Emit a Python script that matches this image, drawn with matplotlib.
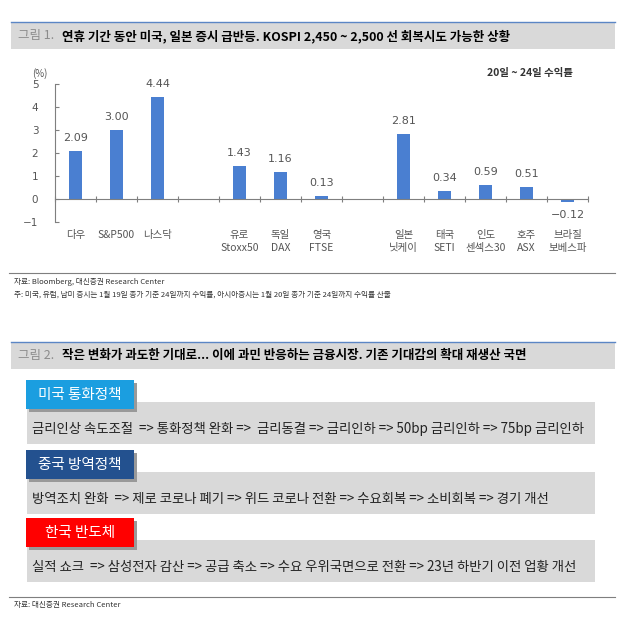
import matplotlib.pyplot as plt
from matplotlib.patches import Rectangle
import matplotlib.transforms as mtransforms

plt.rcParams['font.family'] = ['Noto Sans CJK KR', 'DejaVu Sans']

# chart data
categories = ["다우", "S&P500", "나스닥", "", "유로\nStoxx50", "독일\nDAX", "영국\nFTSE", "",
              "일본\n닛케이", "태국\nSETI", "인도\n센섹스30", "호주\nASX", "브라질\n보베스파"]
values = [2.09, 3.00, 4.44, None, 1.43, 1.16, 0.13, None, 2.81, 0.34, 0.59, 0.51, -0.12]
yticks = [-1, 0, 1, 2, 3, 4, 5]

title1 = "연휴 기간 동안 미국, 일본 증시 급반등. KOSPI 2,450 ~ 2,500 선 회복시도 가능한 상황"
title2 = "작은 변화가 과도한 기대로... 이에 과민 반응하는 금융시장. 기존 기대감의 확대 재생산 국면"
source1 = "자료: Bloomberg, 대신증권 Research Center"
note1 = "주: 미국, 유럽, 남미 증시는 1월 19일 종가 기준 24일까지 수익률, 아시아증시는 1월 20일 종가 기준 24일까지 수익률 산출"
source2 = "자료: 대신증권 Research Center"

box_labels = ["미국 통화정책", "중국 방역정책", "한국 반도체"]
box_texts = [
    "금리인상 속도조절  => 통화정책 완화 =>  금리동결 => 금리인하 => 50bp 금리인하 => 75bp 금리인하",
    "방역조치 완화  => 제로 코로나 폐기 => 위드 코로나 전환 => 수요회복 => 소비회복 => 경기 개선",
    "실적 쇼크  => 삼성전자 감산 => 공급 축소 => 수요 우위국면으로 전환 => 23년 하반기 이전 업황 개선",
]
box_colors = ["#1b9ee0", "#23518f", "#ff0000"]

W, H = 631, 626
fig = plt.figure(figsize=(W / 100, H / 100), dpi=100)

# page overlay in pixel coords
page = fig.add_axes([0, 0, 1, 1])
page.set_xlim(0, W)
page.set_ylim(H, 0)
page.axis("off")


def title_band(y, num, text):
    page.add_patch(Rectangle((11, y), 604, 27, facecolor="#d9d9d9", edgecolor="none"))
    page.plot([11, 615], [y, y], color="#5b86c5", lw=1)
    page.text(18, y + 14, num, color="#8c8c8c", fontsize=9, va="center")
    page.text(62, y + 14, text, color="black", fontsize=9, fontweight="bold", va="center")


title_band(22, "그림 1.", title1)
title_band(342, "그림 2.", title2)

# bar chart
ax = fig.add_axes([55 / W, (H - 222) / H, (588 - 55) / W, (222 - 84) / H])
x = list(range(len(categories)))
bx = [i for i, v in zip(x, values) if v is not None]
bv = [v for v in values if v is not None]
ax.bar(bx, bv, width=0.32, color="#4a7fd1")
ax.set_xlim(-0.5, len(categories) - 0.5)
ax.set_ylim(-1, 5)
ax.set_yticks(yticks)
ax.set_yticklabels([f"{t}".replace("-", "−") for t in yticks], color="#555555", fontsize=7.5,
                   family="DejaVu Sans")
ax.tick_params(axis="y", direction="in", length=3, color="#7f7f7f", pad=12)
ax.spines["top"].set_visible(False)
ax.spines["right"].set_visible(False)
ax.spines["left"].set_color("#7f7f7f")
ax.spines["bottom"].set_color("#7f7f7f")
ax.spines["bottom"].set_position(("data", 0))
ax.set_xticks([i - 0.5 for i in range(len(categories) + 1)])
ax.set_xticklabels([])
ax.tick_params(axis="x", direction="inout", length=5, color="#7f7f7f")
ax.patch.set_alpha(0)

for i, v in zip(bx, bv):
    if v >= 0:
        ax.text(i, v + 0.35, f"{v:.2f}", ha="center", va="bottom", fontsize=8, color="#555555",
                family="DejaVu Sans")
    else:
        ax.text(i, v - 0.35, f"−{abs(v):.2f}", ha="center", va="top", fontsize=8, color="#555555",
                family="DejaVu Sans")

trans = mtransforms.blended_transform_factory(ax.transData, ax.transAxes)
for i, c in enumerate(categories):
    ax.text(i, -0.06, c, transform=trans, ha="center", va="top", fontsize=7.5,
            color="#555555", linespacing=1.3)

page.text(40, 74, "(%)", ha="center", va="center", fontsize=7, color="#555555")
page.text(530, 73, "20일 ~ 24일 수익률", ha="center", va="center", fontsize=7.5,
          fontweight="bold", color="#333333")

# source lines
for y in (273, 597):
    page.plot([9, 615], [y, y], color="#7f7f7f", lw=0.8)
page.text(14, 282, source1, fontsize=5.5, va="center", color="#333333")
page.text(14, 295, note1, fontsize=5.5, va="center", color="#333333")
page.text(14, 605, source2, fontsize=5.5, va="center", color="#333333")

# flow boxes
band_tops = [402, 472, 540]
label_tops = [380, 450, 518]
for lt, bt, lab, txt, col in zip(label_tops, band_tops, box_labels, box_texts, box_colors):
    page.add_patch(Rectangle((27, bt), 568, 42, facecolor="#d9d9d9", edgecolor="none"))
    page.add_patch(Rectangle((28.5, lt + 2.5), 108, 29, facecolor="#999999", edgecolor="none"))
    page.add_patch(Rectangle((26, lt), 108, 29, facecolor=col, edgecolor="none"))
    page.text(80, lt + 14.5, lab, ha="center", va="center", fontsize=10.5, color="white")
    page.text(32, bt + 27, txt, ha="left", va="center", fontsize=9.6, color="#222222")

fig.savefig("out.png", dpi=100)
